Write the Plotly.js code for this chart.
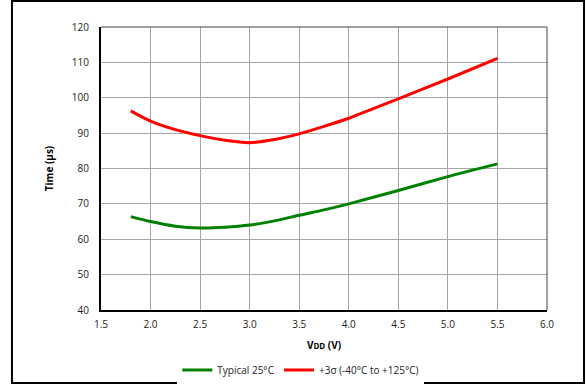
<!DOCTYPE html>
<html><head><meta charset="utf-8">
<script src="https://cdn.plot.ly/plotly-3.0.1.min.js"></script>
<style>html,body{margin:0;padding:0;background:#fff}#c{width:586px;height:385px}</style>
</head><body><div id="c"></div>
<script>
const vdd = [1.8, 2.0, 2.25, 2.5, 2.75, 3.0, 3.25, 3.5, 3.75, 4.0, 4.5, 5.0, 5.5];
const typical = [66.4, 65.0, 63.7, 63.2, 63.4, 64.0, 65.2, 66.8, 68.3, 70.0, 73.8, 77.7, 81.3];
const sigma3 = [96.3, 93.4, 91.0, 89.3, 88.0, 87.3, 88.2, 89.8, 91.9, 94.2, 99.7, 105.3, 111.1];
const xTicks = [1.5, 2.0, 2.5, 3.0, 3.5, 4.0, 4.5, 5.0, 5.5, 6.0];
const xTickText = ['1.5','2.0','2.5','3.0','3.5','4.0','4.5','5.0','5.5','6.0'];
const seriesNames = ['Typical 25°C', '+3σ (-40°C to +125°C)'];

const font = 'Open Sans, Liberation Sans, sans-serif';
const data = [
  {x: vdd, y: typical, name: seriesNames[0], mode: 'lines', line: {color: '#008000', width: 3, shape: 'spline', smoothing: 0.8}},
  {x: vdd, y: sigma3, name: seriesNames[1], mode: 'lines', line: {color: '#ff0000', width: 3, shape: 'spline', smoothing: 0.8}}
];
const layout = {
  width: 586, height: 385,
  margin: {l: 101, r: 39, t: 27, b: 75, autoexpand: false},
  paper_bgcolor: '#fff', plot_bgcolor: '#fff',
  font: {family: font, size: 10, color: '#222'},
  showlegend: true,
  legend: {orientation: 'h', x: 0.448, xanchor: 'center', xref: 'paper', yref: 'container', y: 0.039, yanchor: 'middle', font: {size: 10, family: font, color: '#222'}, itemwidth: 30, tracegroupgap: 0},
  xaxis: {
    range: [1.5, 6.0], tickvals: xTicks, ticktext: xTickText, automargin: false,
    showgrid: true, gridcolor: '#a6a6a6', gridwidth: 1,
    showline: true, linecolor: '#000', linewidth: 2, ticks: '', zeroline: false,
    ticklabelstandoff: 4,
    tickfont: {size: 10, family: font, color: '#222'},
    title: {text: '<b>V<span style="font-size:8px">DD</span> (V)</b>', font: {size: 10, family: font, color: '#000'}, standoff: 12}
  },
  yaxis: {
    range: [40, 120], dtick: 10, automargin: false,
    showgrid: true, gridcolor: '#a6a6a6', gridwidth: 1,
    showline: true, linecolor: '#000', linewidth: 2, ticks: '', zeroline: false,
    ticklabelstandoff: 8,
    tickfont: {size: 10, family: font, color: '#222'},
    title: {text: '<b>Time (µs)</b>', font: {size: 10, family: font, color: '#000'}, standoff: 16}
  },
  shapes: [
    {type: 'line', xref: 'paper', yref: 'paper', x0: 0, x1: 1, y0: 1, y1: 1, line: {color: '#404040', width: 1}},
    {type: 'line', xref: 'paper', yref: 'paper', x0: 1, x1: 1, y0: 0, y1: 1, line: {color: '#404040', width: 1}},
    {type: 'rect', xref: 'paper', yref: 'paper', x0: -0.1996, x1: 1.0830, y0: -0.2580, y1: 1.0920, line: {color: '#000', width: 2}}
  ]
};
Plotly.newPlot('c', data, layout, {displayModeBar: false, staticPlot: true});
</script></body></html>
